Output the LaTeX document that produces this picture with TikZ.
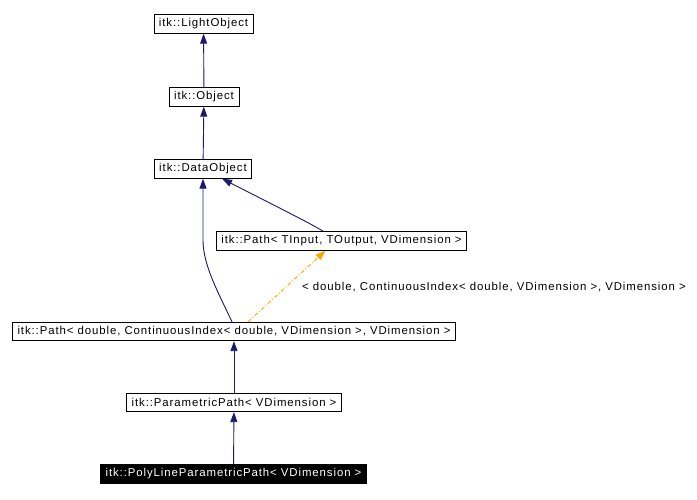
\documentclass[tikz,border=0pt]{standalone}
\usepackage{fontspec}
\setmainfont{Liberation Sans}[LetterSpace=8]
\usetikzlibrary{arrows.meta,positioning,calc}
\definecolor{EdgeBlue}{RGB}{25,25,112}
\definecolor{TemplOrange}{RGB}{255,165,0}
\tikzset{
  classbox/.style={draw=black, fill=white, line width=0.8pt, inner xsep=5pt, inner ysep=0pt, minimum height=18.5pt, font=\fontsize{11.4}{13}\selectfont},
  curclass/.style={classbox, fill=black, text=white},
  inherit/.style={draw=EdgeBlue, line width=0.9pt, -{Triangle[length=10pt,width=7pt]}},
  templedge/.style={draw=TemplOrange, line width=0.9pt, dash pattern=on 4pt off 2pt on 1pt off 2pt, -{Triangle[length=10pt,width=7pt]}},
}
\begin{document}
\begin{tikzpicture}[x=1pt, y=-1pt]
      \useasboundingbox (0,0) rectangle (697,499);
      \node[classbox] (lightobj) at (203.5,24) {itk::LightObject};
      \node[classbox] (obj) at (204,97) {itk::Object};
      \node[classbox] (dataobj) at (203,169) {itk::DataObject};
      \node[classbox] (pathtmpl) at (341.5,241) {itk::Path< TInput, TOutput, VDimension >};
      \node[classbox] (pathdbl) at (234,331.5) {itk::Path< double, ContinuousIndex< double, VDimension >, VDimension >};
      \node[classbox] (parampath) at (234,402.5) {itk::ParametricPath< VDimension >};
      \node[curclass] (polyline) at (233.5,474) {itk::PolyLineParametricPath< VDimension >};
      \node[anchor=west, inner xsep=0pt, font=\fontsize{11.4}{13}\selectfont] (tmplarg) at (302,287) {< double, ContinuousIndex< double, VDimension >, VDimension >};

      \draw[inherit] (obj) -- (lightobj);
      \draw[inherit] (dataobj) -- (obj);
      \draw[inherit] ([xshift=-18pt]pathtmpl.north) .. controls (309,223) .. ([xshift=19pt]dataobj.south);
      \draw[inherit] ([xshift=-2pt]pathdbl.north) .. controls (218,292) and (203,265) .. (203,240) -- (dataobj.south);
      \draw[templedge] ([xshift=14pt]pathdbl.north) -- ([xshift=-16pt]pathtmpl.south);
      \draw[inherit] (parampath) -- (pathdbl);
      \draw[inherit] (polyline) -- (parampath);
    \end{tikzpicture}
\end{document}
